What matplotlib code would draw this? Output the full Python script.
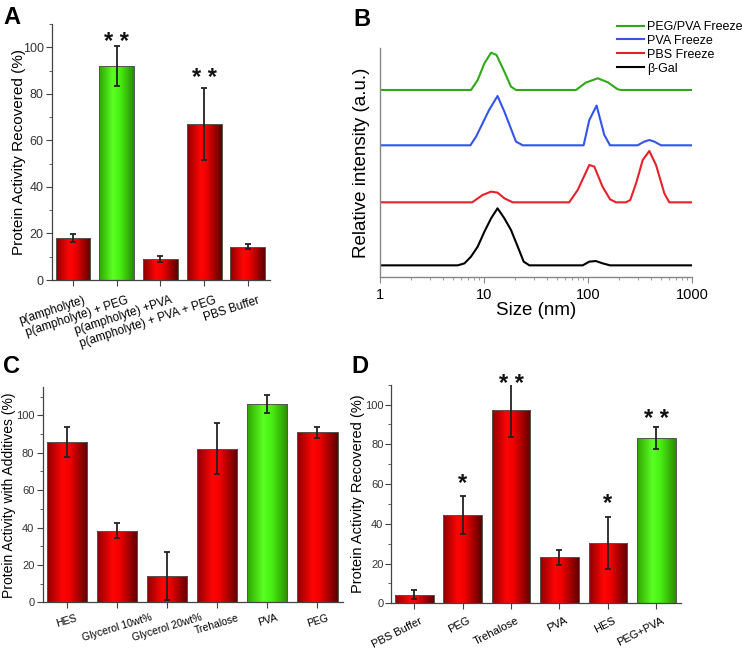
import numpy as np
import matplotlib
matplotlib.use('Agg')
import matplotlib.pyplot as plt
from matplotlib.colors import LinearSegmentedColormap
from matplotlib.ticker import MultipleLocator
from matplotlib.transforms import ScaledTranslation

plt.rcParams['font.family'] = ['Liberation Sans', 'DejaVu Sans']

# --- Panel A data ---
a_labels = ['p(ampholyte)', 'p(ampholyte) + PEG', 'p(ampholyte) +PVA',
            'p(ampholyte) + PVA + PEG', 'PBS Buffer']
a_vals = [18.1, 92.1, 9.0, 66.9, 14.3]
a_errs = [1.7, 8.6, 1.4, 15.5, 1.1]
a_green = [1]
a_stars = {1: ('* *', 105.2), 3: ('* *', 89.7)}

# --- Panel B data (DLS size distributions) ---
green_size = [1, 7.5, 8.7, 10.1, 11.7, 13.2, 15.7, 18.2, 20.3, 76.7, 95, 124, 155, 193, 208, 1000]
green_int = [0, 0, 10, 26.7, 37.3, 35, 18.3, 3.3, 0, 0, 7.3, 11.7, 7.7, 0.7, 0, 0]
blue_size = [1, 7.4, 8.4, 11.2, 13.5, 15.7, 20.3, 23.6, 90.8, 103, 121, 143.5, 163,
             300, 348, 389, 434, 504, 1000]
blue_int = [0, 0, 8.7, 35.3, 49.3, 33.7, 3.7, 0, 0, 25.3, 39.7, 10.3, 0, 0, 3.7, 5.3, 3.7, 0, 0]
red_size = [1, 7.7, 9.7, 11.7, 13.5, 15.7, 18.9, 66, 79.6, 103, 115, 138, 163, 186, 232,
            255, 290, 336, 389, 451, 542, 605, 1000]
red_int = [0, 0, 7.3, 10.7, 9.7, 4, 0, 0, 12.3, 37.3, 35.7, 15.7, 3, 0, 0, 2.3, 19, 42.3,
           51.3, 37.3, 9, 0, 0]
black_size = [1, 5.6, 6.5, 7.5, 8.7, 10.1, 11.7, 13.5, 15.7, 18.2, 21.1, 24.1, 27.3,
              89, 103, 119, 138, 163, 1000]
black_int = [0, 0, 2, 8.7, 18.7, 33.7, 47, 57, 47, 35.3, 18.7, 3.7, 0, 0, 3.7, 4.3, 2, 0, 0]
b_offsets = {'PEG/PVA Freeze': 187.3, 'PVA Freeze': 132, 'PBS Freeze': 75, 'β-Gal': 12}

# --- Panel C data ---
c_labels = ['HES', 'Glycerol 10wt%', 'Glycerol 20wt%', 'Trehalose', 'PVA', 'PEG']
c_vals = [85.9, 38.3, 13.9, 82.2, 106.2, 90.9]
c_errs = [8.0, 4.0, 12.8, 13.8, 4.7, 3.0]
c_green = [4]

# --- Panel D data ---
d_labels = ['PBS Buffer', 'PEG', 'Trehalose', 'PVA', 'HES', 'PEG+PVA']
d_vals = [4.3, 44.6, 97.5, 23.1, 30.3, 83.3]
d_errs = [2.3, 9.5, 13.7, 3.7, 13.0, 5.5]
d_green = [5]
d_stars = {1: ('*', 64), 2: ('* *', 114.2), 4: ('*', 54), 5: ('* *', 96.3)}

red_cmap = LinearSegmentedColormap.from_list(
    'redbar', [(0, '#8c0000'), (0.38, '#ff0505'), (0.55, '#f20000'), (1, '#5c0000')])
green_cmap = LinearSegmentedColormap.from_list(
    'greenbar', [(0, '#2fa300'), (0.4, '#5aff24'), (0.6, '#48f012'), (1, '#2a8c00')])
grad = np.linspace(0, 1, 256).reshape(1, -1)


def gradient_bars(ax, vals, errs, green, ylim, width=0.8):
    x = np.arange(len(vals))
    bars = ax.bar(x, vals, width=width, facecolor='none', edgecolor='#555555',
                  linewidth=0.7, zorder=3)
    for i, b in enumerate(bars):
        cm = green_cmap if i in green else red_cmap
        im = ax.imshow(grad, cmap=cm, aspect='auto', zorder=2,
                       extent=[b.get_x(), b.get_x() + b.get_width(), 0, b.get_height()])
        im.set_clip_path(b)
    ax.errorbar(x, vals, yerr=errs, fmt='none', ecolor='#222222', elinewidth=1.3,
                capsize=2.5, capthick=1.3, zorder=4)
    ax.set_xlim(-0.48, len(vals) - 0.49)
    ax.set_ylim(*ylim)
    ax.set_xticks(x)
    for s in ['top', 'right']:
        ax.spines[s].set_visible(False)
    for s in ['left', 'bottom']:
        ax.spines[s].set_color('#444444')
        ax.spines[s].set_linewidth(0.9)
    ax.yaxis.set_major_locator(MultipleLocator(20))
    ax.yaxis.set_minor_locator(MultipleLocator(10))
    ax.tick_params(axis='both', which='both', direction='out', color='#444444')
    ax.tick_params(which='major', length=4)
    ax.tick_params(which='minor', length=2)
    return x


def shift_labels(ax, dx, dy):
    off = ScaledTranslation(dx / 100, dy / 100, fig.dpi_scale_trans)
    for t in ax.get_xticklabels():
        t.set_transform(t.get_transform() + off)


def stars(ax, marks, fs=17):
    for i, (s, y) in marks.items():
        ax.annotate(s, (i, y), xytext=(0, -0.6 * fs), textcoords='offset points',
                    ha='center', va='baseline', fontsize=fs, fontweight='bold',
                    color='#111111', annotation_clip=False)


fig = plt.figure(figsize=(7.42, 6.48), dpi=100)

# Panel A
axA = fig.add_axes([0.0701, 0.5679, 0.2938, 0.3951])
gradient_bars(axA, a_vals, a_errs, a_green, (0, 110))
axA.set_xticklabels(a_labels, rotation=18, ha='right', rotation_mode='anchor', fontsize=8.5)
shift_labels(axA, 10, -4)
axA.tick_params(axis='y', labelsize=9, pad=2, labelcolor='#333333')
axA.set_ylabel('Protein Activity Recovered (%)', fontsize=11)
axA.yaxis.set_label_coords(-0.12, 0.5)
stars(axA, a_stars)

# Panel B
axB = fig.add_axes([0.5121, 0.572, 0.4205, 0.3535])
series = [(black_size, black_int, 'black', 'β-Gal'),
          (red_size, red_int, '#e8202a', 'PBS Freeze'),
          (blue_size, blue_int, '#3355ee', 'PVA Freeze'),
          (green_size, green_int, '#2eaa14', 'PEG/PVA Freeze')]
lines = {}
for sz, it, col, lab in series:
    ln, = axB.plot(sz, np.array(it) + b_offsets[lab], color=col, lw=1.5, label=lab)
    lines[lab] = ln
axB.set_xscale('log')
axB.set_xlim(1, 1000)
axB.set_ylim(0, 229)
axB.set_yticks([])
for s in ['top', 'right']:
    axB.spines[s].set_visible(False)
for s in ['left', 'bottom']:
    axB.spines[s].set_color('#888888')
    axB.spines[s].set_linewidth(1.0)
axB.set_xticks([1, 10, 100, 1000])
axB.set_xticklabels(['1', '10', '100', '1000'])
axB.tick_params(axis='x', which='both', direction='out', color='#888888', labelsize=10.5)
axB.tick_params(axis='x', which='major', length=4)
axB.tick_params(axis='x', which='minor', length=2)
axB.set_xlabel('Size (nm)', fontsize=13.5, labelpad=0)
axB.set_ylabel('Relative intensity (a.u.)', fontsize=13.5)
axB.yaxis.set_label_coords(-0.032, 0.5)
order = ['PEG/PVA Freeze', 'PVA Freeze', 'PBS Freeze', 'β-Gal']
axB.legend([lines[k] for k in order], order, loc='upper left',
           bbox_to_anchor=(0.8315, 0.9676), bbox_transform=fig.transFigure,
           frameon=False, fontsize=9, handlelength=2.2, handletextpad=0.2,
           labelspacing=0.15, borderpad=0, borderaxespad=0)

# Panel C
axC = fig.add_axes([0.0575, 0.0705, 0.4048, 0.3318])
gradient_bars(axC, c_vals, c_errs, c_green, (0, 115))
axC.set_xticklabels(c_labels, rotation=17, ha='center', fontsize=7.5)
axC.tick_params(axis='y', labelsize=8, pad=2, labelcolor='#333333')
axC.set_ylabel('Protein Activity with Additives (%)', fontsize=10)
axC.yaxis.set_label_coords(-0.09, 0.5)

# Panel D
axD = fig.add_axes([0.527, 0.069, 0.3908, 0.3373])
gradient_bars(axD, d_vals, d_errs, d_green, (0, 110))
axD.set_xticklabels(d_labels, rotation=27, ha='right', rotation_mode='anchor', fontsize=8)
shift_labels(axD, 5, -2)
axD.tick_params(axis='y', labelsize=8, pad=1.5, labelcolor='#333333')
axD.set_ylabel('Protein Activity Recovered (%)', fontsize=10.5)
axD.yaxis.set_label_coords(-0.09, 0.5)
stars(axD, d_stars)

# Panel letters
for lab, (x, y) in {'A': (0.004, 0.99), 'B': (0.476, 0.988),
                    'C': (0.004, 0.452), 'D': (0.474, 0.452)}.items():
    fig.text(x, y, lab, fontsize=17, fontweight='bold', va='top', ha='left')

fig.savefig('out.png', dpi=100)
